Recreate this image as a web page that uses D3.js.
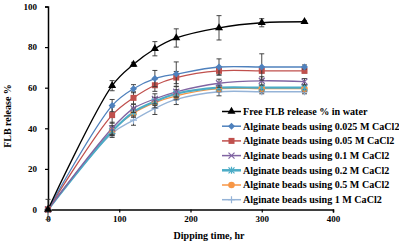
<!DOCTYPE html>
<html><head><meta charset="utf-8">
<script src="https://cdn.jsdelivr.net/npm/d3@7"></script>
<style>body{margin:0;background:#fff}svg{display:block}text{font-family:"Liberation Serif","Times New Roman",serif;font-weight:bold}</style>
</head><body><svg id="c" width="399" height="245"></svg>
<script>
const times = [0, 90, 120, 150, 180, 240, 300, 360];
const seriesNames = ["Free FLB release % in water","Alginate beads using 0.025 M CaCl2","Alginate beads using 0.05 M CaCl2","Alginate beads using 0.1 M CaCl2","Alginate beads using 0.2 M CaCl2","Alginate beads using 0.5 M CaCl2","Alginate beads using 1 M CaCl2"];
const freeFLB   = [0, 61, 71.5, 79.2, 84.5, 89.5, 92, 92.5];
const beads0025 = [0, 51.2, 59.5, 64.5, 66.7, 70.2, 70.2, 70.2];
const beads005  = [0, 46.5, 55, 61.2, 65, 68.3, 68.3, 68.3];
const beads01   = [0, 40, 49.8, 54.5, 58, 62.2, 63.4, 63];
const beads02   = [0, 38.5, 48, 53.2, 57, 60, 60, 60];
const beads05   = [0, 38.8, 47.4, 52.6, 56, 59.5, 59.5, 59.5];
const beads1    = [0, 37.5, 44, 49.8, 54.2, 58, 58, 58];
const errFree   = [5, 2.5, 1, 3.5, 4.5, 6, 2, 0.5];
const err0025   = [0, 3, 2, 4, 6, 4, 6.5, 1];
const err005    = [0, 4, 3, 3, 3, 2, 1, 1];
const err01     = [0, 3, 2, 2.5, 2.5, 2, 2, 1.5];
const err02     = [0, 2, 2, 2, 2, 1, 1, 1];
const err05     = [0, 2.5, 2, 2.5, 2, 1.5, 1.5, 1.5];
const err1      = [0, 2, 2.5, 3, 2.5, 2, 1, 1];
const xTicks = [0, 100, 200, 300, 400];
const yTicks = [0, 20, 40, 60, 80, 100];

const values = [freeFLB, beads0025, beads005, beads01, beads02, beads05, beads1];
const errs = [errFree, err0025, err005, err01, err02, err05, err1];
const colors = ["#000000","#4F81BD","#C0504D","#8064A2","#4BACC6","#F79646","#95B3D7"];
const markers = ["triangle","diamond","square","x","star","circle","plus"];
const lineW = [1.3,1.3,1.3,1.3,2.2,1.3,1.3];

const svg = d3.select("#c");
const x = d3.scaleLinear().domain([0,400]).range([48,333]);
const y = d3.scaleLinear().domain([0,100]).range([209.5,6.5]);

const gx = svg.append("g").attr("transform",`translate(0,${y(0)})`)
  .call(d3.axisBottom(x).tickValues(xTicks).tickSize(3).tickPadding(3));
const gy = svg.append("g").attr("transform",`translate(${x(0)},0)`)
  .call(d3.axisLeft(y).tickValues(yTicks).tickSize(3).tickPadding(8));
[gx,gy].forEach(g=>{
  g.select(".domain").attr("stroke","#000").attr("stroke-width",1.5);
  g.selectAll(".tick line").attr("stroke","#000").attr("stroke-width",1.2);
  g.selectAll(".tick text").attr("font-size",9).attr("font-family","Liberation Serif").attr("font-weight","bold").attr("fill","#000");
});

svg.append("text").attr("x",209).attr("y",239).attr("text-anchor","middle").attr("font-size",10).text("Dipping time, hr");
svg.append("text").attr("transform","translate(11,116) rotate(-90)").attr("text-anchor","middle").attr("font-size",10).text("FLB release %");

function drawMarker(g, type, cx, cy, color){
  if(type==="triangle"){
    g.append("path").attr("d",d3.symbol(d3.symbolTriangle,28)()).attr("transform",`translate(${cx},${cy})`).attr("fill",color);
  } else if(type==="diamond"){
    g.append("path").attr("d",`M${cx},${cy-3.5}L${cx+3.5},${cy}L${cx},${cy+3.5}L${cx-3.5},${cy}Z`).attr("fill",color);
  } else if(type==="square"){
    g.append("rect").attr("x",cx-3).attr("y",cy-3).attr("width",6).attr("height",6).attr("fill",color);
  } else if(type==="x"){
    g.append("path").attr("d",`M${cx-3},${cy-3}L${cx+3},${cy+3}M${cx-3},${cy+3}L${cx+3},${cy-3}`).attr("stroke",color).attr("stroke-width",1.2);
  } else if(type==="star"){
    g.append("path").attr("d",`M${cx-3},${cy-3}L${cx+3},${cy+3}M${cx-3},${cy+3}L${cx+3},${cy-3}M${cx},${cy-3.5}L${cx},${cy+3.5}`).attr("stroke",color).attr("stroke-width",1.2);
  } else if(type==="circle"){
    g.append("circle").attr("cx",cx).attr("cy",cy).attr("r",3.3).attr("fill",color);
  } else if(type==="plus"){
    g.append("path").attr("d",`M${cx-3.5},${cy}L${cx+3.5},${cy}M${cx},${cy-3.5}L${cx},${cy+3.5}`).attr("stroke",color).attr("stroke-width",1.2);
  }
}

const line = d3.line().x((d,i)=>x(times[i])).y(d=>y(d)).curve(d3.curveCatmullRom.alpha(0.5));
const plot = svg.append("g");
for(let k=values.length-1;k>=0;k--){
  plot.append("path").datum(values[k]).attr("d",line).attr("fill","none").attr("stroke",colors[k]).attr("stroke-width",lineW[k]);
}
for(let k=values.length-1;k>=0;k--){
  const g = plot.append("g");
  values[k].forEach((v,i)=>{
    const e = errs[k][i];
    if(e>0){
      const cx = x(times[i]);
      g.append("path").attr("d",`M${cx},${y(v+e)}L${cx},${y(v-e)}M${cx-2.5},${y(v+e)}L${cx+2.5},${y(v+e)}M${cx-2.5},${y(v-e)}L${cx+2.5},${y(v-e)}`)
        .attr("stroke","#333").attr("stroke-width",0.9).attr("fill","none");
    }
  });
  values[k].forEach((v,i)=>drawMarker(g, markers[k], x(times[i]), y(v), colors[k]));
}

const lg = svg.append("g");
const ly0 = 111.5, dy = 14.7;
seriesNames.forEach((n,k)=>{
  const yy = ly0 + k*dy;
  lg.append("line").attr("x1",222).attr("x2",241).attr("y1",yy).attr("y2",yy).attr("stroke",colors[k]).attr("stroke-width",k===4?2.5:1.5);
  drawMarker(lg, markers[k], 231.5, yy, colors[k]);
  lg.append("text").attr("x",243).attr("y",yy+3.4).attr("font-size",10.1).text(n);
});
</script></body></html>
